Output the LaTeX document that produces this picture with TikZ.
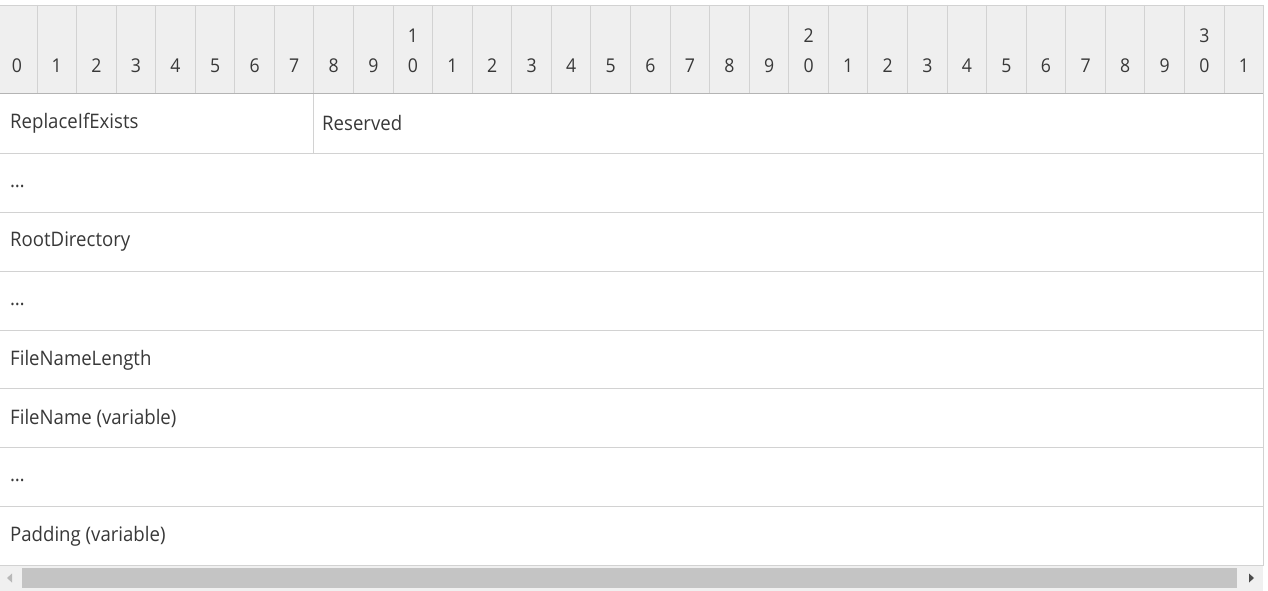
\documentclass[tikz,border=0pt]{standalone}
\usepackage{fontspec}
\setmainfont{Open Sans}[FakeStretch=0.93]
\definecolor{hdr}{HTML}{EFEFEF}
\definecolor{gridc}{HTML}{D2D2D2}
\definecolor{hline}{HTML}{B4B4B4}
\definecolor{txt}{HTML}{383838}
\definecolor{sbbg}{HTML}{F0F0F0}
\definecolor{thumb}{HTML}{C4C4C4}
\tikzset{
  hdrnum/.style={font=\fontsize{19}{22}\selectfont, text=txt, inner sep=0pt, anchor=center},
  rowtext/.style={font=\fontsize{20}{24}\selectfont, text=txt, inner sep=0pt, anchor=west},
  gridline/.style={draw=gridc, line width=1pt},
  hdrline/.style={draw=hline, line width=1pt}
}
\begin{document}
\begin{tikzpicture}[x=1pt,y=-1pt]
\useasboundingbox (0,0) rectangle (1268,591);
\fill[white] (0,0) rectangle (1268,591);
% header background
\fill[hdr] (0,5) rectangle (1263,94);
\draw[gridc] (0,5) -- (1263,5);
% header vertical separators
\foreach \i in {1,...,31} {
  \pgfmathsetmacro{\bx}{37+(\i-1)*39.57}
  \draw[gridline] (\bx,5) -- (\bx,94);
}
% header numbers
\node[hdrnum] (h0) at (17,66) {0};
\foreach \i in {1,...,31} {
  \pgfmathsetmacro{\cx}{37+(\i-0.5)*39.57}
  \pgfmathtruncatemacro{\d}{mod(\i,10)}
  \pgfmathtruncatemacro{\t}{\i/10}
  \ifnum\d=0
    \node[hdrnum] (h\i) at (\cx,66) {0};
    \node[hdrnum] (t\i) at (\cx,36) {\t};
  \else
    \node[hdrnum] (h\i) at (\cx,66) {\d};
  \fi
}
% table borders
\draw[hdrline] (0,94) -- (1263,94);
\draw[gridline] (1263,5) -- (1263,566);
\foreach \y in {153,212,271,330,388,447,506,565} {
  \draw[gridline] (0,\y) -- (1263,\y);
}
\draw[gridline] (313,94) -- (313,153);
% row texts
\node[rowtext] (r1) at (10,123.5) {ReplaceIfExists};
\node[rowtext] (r1b) at (322,123.5) {Reserved};
\node[rowtext] (r2) at (10,186) {…};
\node[rowtext] (r3) at (10,242) {RootDirectory};
\node[rowtext] (r4) at (10,304) {…};
\node[rowtext] (r5) at (10,360) {FileNameLength};
\node[rowtext] (r6) at (10,418) {FileName (variable)};
\node[rowtext] (r7) at (10,480) {…};
\node[rowtext] (r8) at (10,536) {Padding (variable)};
% scrollbar
\fill[sbbg] (0,566) rectangle (1263,591);
\fill[thumb] (22,568) rectangle (1237,588);
\fill[gray!55] (7,578) -- (12,573.5) -- (12,582.5) -- cycle;
\fill[black!70] (1254,578) -- (1249,573.5) -- (1249,582.5) -- cycle;
\end{tikzpicture}
\end{document}
